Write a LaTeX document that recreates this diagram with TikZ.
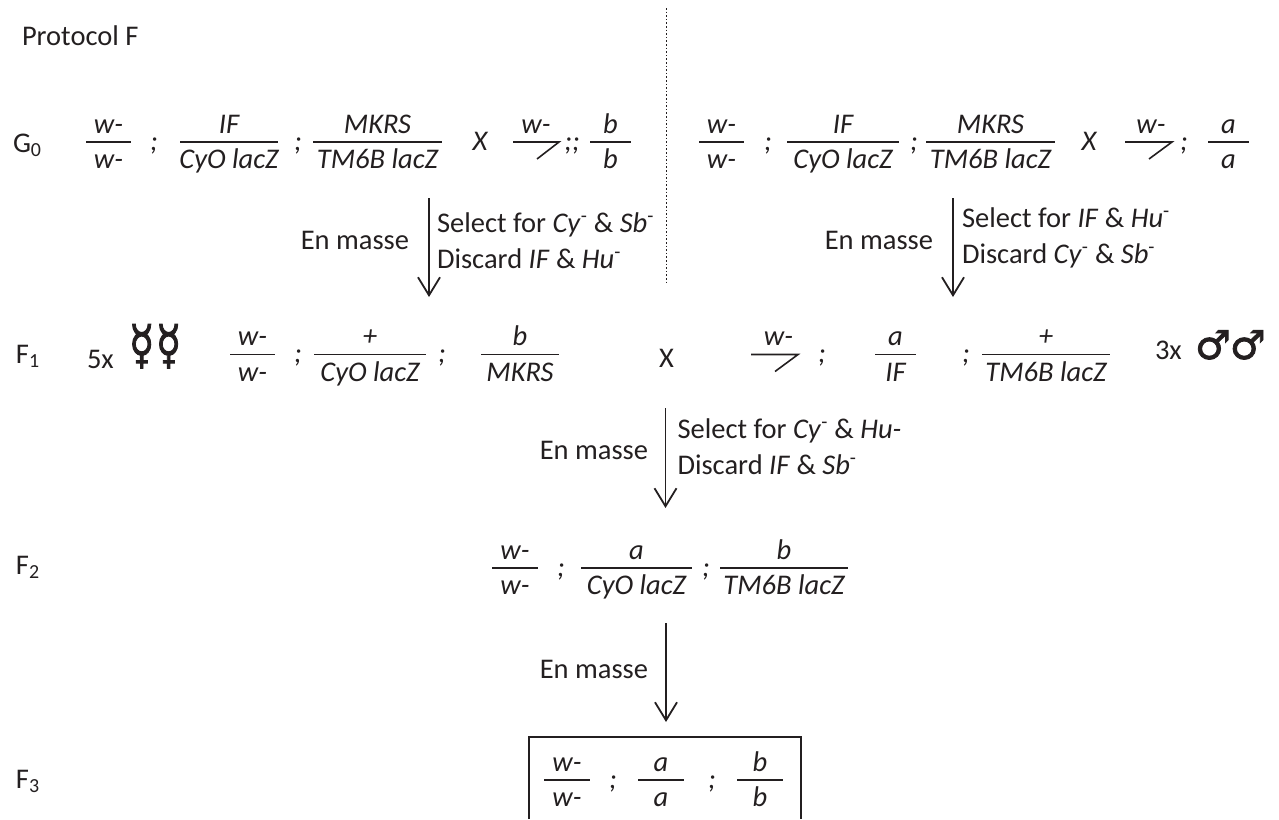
\documentclass[tikz,border=0pt]{standalone}
\usepackage{fontspec}
\setmainfont{Carlito}
\newfontfamily\symfont[FakeBold=2]{DejaVu Sans}
\usetikzlibrary{arrows.meta}
\definecolor{ink}{HTML}{231F20}
\tikzset{
  txt/.style={anchor=base,inner sep=0pt,outer sep=0pt,text=ink,font=\fontsize{28.5}{32}\selectfont},
  left txt/.style={txt,anchor=base west},
  fracbar/.style={draw=ink,line width=1.6pt},
  arr/.style={draw=ink,line width=1.8pt,-{Straight Barb[length=18pt,width=22pt,line width=1.8pt]}},
}
\newcommand{\frc}[6]{%
  \pgfmathsetmacro\cx{(#2+#3)/2}%
  \coordinate (#1l) at (#2,#4);
  \coordinate (#1r) at (#3,#4);
  \draw[fracbar] (#1l) -- (#1r);
  \node[txt] (#1n) at (\cx,#4-9) {\itshape #5};
  \node[txt] (#1d) at (\cx,#4+26.5) {\itshape #6};
}
\newcommand{\mfrc}[6]{%
  \coordinate (#1l) at (#2,#4);
  \coordinate (#1r) at (#3,#4);
  \coordinate (#1t) at (#5,#4+17);
  \draw[fracbar] (#1l) -- (#1r) -- (#1t);
  \node[txt] (#1n) at (#6,#4-9) {\itshape w-};
}
\newcommand{\semi}[3]{\node[txt] (#1) at (#2,#3) {\itshape ;};}
\newcommand{\minussup}{\textsuperscript{-}}
\begin{document}
\begin{tikzpicture}[x=1pt,y=-1pt]
\useasboundingbox (0,0) rectangle (1279,819);
\node[left txt] (title) at (22,45) {Protocol F};
\node[left txt] (g0) at (13,152) {G\textsubscript{0}};
\node[left txt] (f1) at (16,363) {F\textsubscript{1}};
\node[left txt] (f2) at (16,574) {F\textsubscript{2}};
\node[left txt] (f3) at (16,788) {F\textsubscript{3}};
% divider
\coordinate (divt) at (666.5,8);
\coordinate (divb) at (666.5,283);
\draw[ink,line width=1.6pt,dotted] (divt) -- (divb);
% G0 left
\frc{a1}{86}{131}{142}{w-}{w-}
\semi{s1}{154}{150}
\frc{a2}{180}{278}{142}{IF}{CyO lacZ}
\semi{s2}{298}{150}
\frc{a3}{313}{442}{142}{MKRS}{TM6B lacZ}
\node[txt] (x1) at (480,150) {\itshape X};
\mfrc{a4}{513}{559}{142}{537}{536}
\node[txt] (s3) at (572,150) {\itshape ;;};
\frc{a5}{590}{631}{142}{b}{b}
% G0 right
\frc{b1}{699}{744}{142}{w-}{w-}
\semi{s4}{768}{150}
\frc{b2}{787}{899}{142}{IF}{CyO lacZ}
\semi{s5}{914}{150}
\frc{b3}{926}{1055}{142}{MKRS}{TM6B lacZ}
\node[txt] (x2) at (1089,150) {\itshape X};
\mfrc{b4}{1125}{1172}{142}{1149}{1151}
\semi{s6}{1184}{150}
\frc{b5}{1208}{1249}{142}{a}{a}
% arrows G0-F1
\coordinate (ar1s) at (429,198);
\coordinate (ar1e) at (429,297);
\draw[arr] (ar1s) -- (ar1e);
\node[txt,anchor=base east] (em1) at (409,249) {En masse};
\node[left txt] (sel1) at (437,232) {Select for \textit{Cy}\minussup{} \& \textit{Sb}\minussup};
\node[left txt] (dis1) at (437,268) {Discard \textit{IF} \& \textit{Hu}\minussup};
\coordinate (ar2s) at (953,198);
\coordinate (ar2e) at (953,297);
\draw[arr] (ar2s) -- (ar2e);
\node[txt,anchor=base east] (em2) at (933,249) {En masse};
\node[left txt] (sel2) at (962,227) {Select for \textit{IF} \& \textit{Hu}\minussup};
\node[left txt] (dis2) at (962,263) {Discard \textit{Cy}\minussup{} \& \textit{Sb}\minussup};
% F1
\node[left txt] (five) at (87,368) {5x};
\node[left txt,xscale=0.78] (fem) at (129,363) {\symfont\fontsize{53}{53}\selectfont ☿\kern2pt☿};
\frc{c1}{230}{275}{354.5}{w-}{w-}
\semi{s7}{298}{362}
\frc{c2}{314}{426}{354.5}{+}{CyO lacZ}
\semi{s8}{442}{362}
\frc{c3}{481}{559}{354.5}{b}{MKRS}
\node[txt] (x3) at (666.5,367) {X};
\mfrc{c4}{751}{798}{354.5}{775}{778.5}
\semi{s9}{822}{362}
\frc{c5}{875}{916}{354.5}{a}{IF}
\semi{s10}{966}{362}
\frc{c6}{982}{1110}{354.5}{+}{TM6B lacZ}
\node[left txt] (three) at (1155,359) {3x};
\node[left txt] (mal) at (1195,359) {\symfont\fontsize{40}{40}\selectfont ♂\kern-1pt♂};
% F1-F2
\coordinate (ar3s) at (665.5,408);
\coordinate (ar3e) at (665.5,508);
\draw[arr] (ar3s) -- (ar3e);
\node[txt,anchor=base east] (em3) at (648,459) {En masse};
\node[left txt] (sel3) at (677.5,438) {Select for \textit{Cy}\minussup{} \& \textit{Hu-}};
\node[left txt] (dis3) at (677.5,474) {Discard \textit{IF} \& \textit{Sb}\minussup};
% F2
\frc{d1}{492}{538}{568}{w-}{w-}
\semi{s11}{561}{576}
\frc{d2}{581}{692}{568}{a}{CyO lacZ}
\semi{s12}{706}{576}
\frc{d3}{720}{848}{568}{b}{TM6B lacZ}
% F2-F3
\coordinate (ar4s) at (666,623);
\coordinate (ar4e) at (666,722);
\draw[arr] (ar4s) -- (ar4e);
\node[txt,anchor=base east] (em4) at (648,678) {En masse};
% F3 box
\coordinate (boxa) at (529,819);
\coordinate (boxb) at (529,737);
\coordinate (boxc) at (801,737);
\coordinate (boxd) at (801,819);
\draw[ink,line width=2pt] (boxa) -- (boxb) -- (boxc) -- (boxd);
\frc{e1}{544}{590}{780}{w-}{w-}
\semi{s13}{613}{788}
\frc{e2}{638}{684}{780}{a}{a}
\semi{s14}{712}{788}
\frc{e3}{737}{783}{780}{b}{b}
\end{tikzpicture}
\end{document}
